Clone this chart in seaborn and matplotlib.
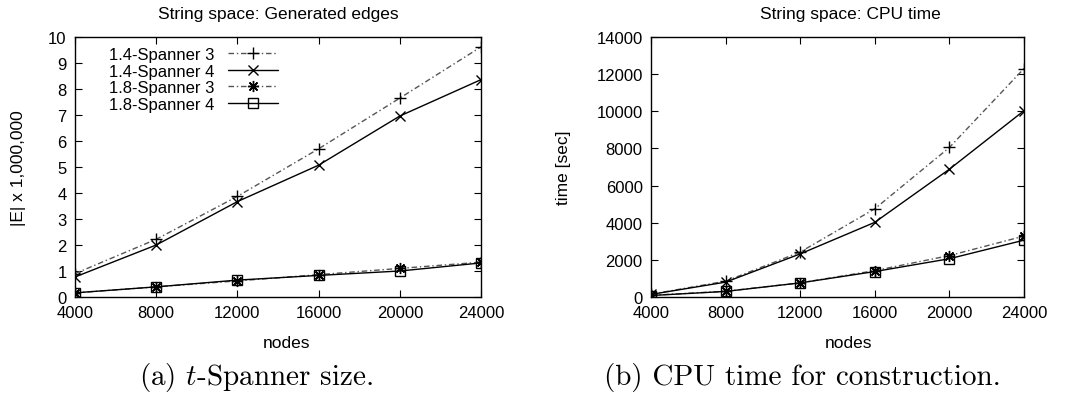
import numpy as np
import pandas as pd
import matplotlib
matplotlib.use("Agg")
import matplotlib.pyplot as plt
import seaborn as sns

sns.set_style("ticks")
plt.rcParams['font.family'] = ['Liberation Sans', 'DejaVu Sans']
plt.rcParams['mathtext.fontset'] = 'cm'
plt.rcParams['text.color'] = 'black'
plt.rcParams['axes.labelcolor'] = 'black'

nodes = [4000, 8000, 12000, 16000, 20000, 24000]
series = ["1.4-Spanner 3", "1.4-Spanner 4", "1.8-Spanner 3", "1.8-Spanner 4"]

# generated edges, in millions
edges_14_3 = [0.90, 2.22, 3.87, 5.70, 7.65, 9.62]
edges_14_4 = [0.77, 2.00, 3.67, 5.07, 6.96, 8.36]
edges_18_3 = [0.16, 0.39, 0.62, 0.86, 1.10, 1.34]
edges_18_4 = [0.16, 0.39, 0.65, 0.83, 1.00, 1.31]

# cpu time in seconds
time_14_3 = [150, 850, 2420, 4750, 8050, 12300]
time_14_4 = [140, 800, 2320, 4020, 6880, 10030]
time_18_3 = [90, 310, 760, 1420, 2230, 3280]
time_18_4 = [80, 300, 760, 1370, 2060, 3060]

# gnuplot-ish styles: (color, linestyle, marker, size)
styles = {
    "1.4-Spanner 3": ("#555555", (0, (4, 2, 1, 2)), "+", 8),
    "1.4-Spanner 4": ("black", "-", "x", 7),
    "1.8-Spanner 3": ("#555555", (0, (4, 2, 1, 2)), (8, 2, 0), 8),
    "1.8-Spanner 4": ("black", "-", "s", 7),
}

def draw(ax, cols, with_label):
    for name, vals in zip(series, cols):
        color, ls, mk, ms = styles[name]
        df = pd.DataFrame({"nodes": nodes, "value": vals})
        sns.lineplot(data=df, x="nodes", y="value", ax=ax, color=color,
                     linestyle=ls, linewidth=1.0, marker=mk, markersize=ms,
                     markeredgewidth=1.0, markerfacecolor="none",
                     markeredgecolor="black",
                     label=name if with_label else None)

fig = plt.figure(figsize=(10.73, 4.02), dpi=100)
ax1 = fig.add_axes([0.0699, 0.2587, 0.3784, 0.6468])
ax2 = fig.add_axes([0.6067, 0.2587, 0.3476, 0.6468])

draw(ax1, [edges_14_3, edges_14_4, edges_18_3, edges_18_4], True)
draw(ax2, [time_14_3, time_14_4, time_18_3, time_18_4], False)

for ax in (ax1, ax2):
    ax.set_xlim(4000, 24000)
    ax.set_xticks(nodes)
    ax.tick_params(direction="in", top=True, right=True, length=5,
                   labelsize=12, colors="black", pad=6)
    for s in ax.spines.values():
        s.set_color("black")
        s.set_linewidth(1.0)
    ax.set_xlabel("nodes", fontsize=12.5)

ax1.set_ylim(0, 10)
ax1.set_yticks(range(0, 11))
ax1.set_ylabel("|E| x 1,000,000", fontsize=12.5, labelpad=16)
ax1.set_title("String space: Generated edges", fontsize=12.5, pad=14)
ax1.xaxis.set_label_coords((287 - 75) / 406, -0.148)

ax2.set_ylim(0, 14000)
ax2.set_yticks(range(0, 14001, 2000))
ax2.set_ylabel("time [sec]", fontsize=12.5, labelpad=18)
ax2.set_title("String space: CPU time", fontsize=12.5, pad=14,
              x=(850 - 651) / 373)
ax2.xaxis.set_label_coords((849 - 651) / 373, -0.148)

leg = ax1.legend(loc="upper left", bbox_to_anchor=(0.06, 1.0), frameon=False,
                 markerfirst=False, fontsize=12, handlelength=3.0,
                 labelspacing=0.1, borderaxespad=0.2, handletextpad=0.8)

fig.text(256 / 1073, 1 - 378 / 402, r"(a) $t$-Spanner size.", family="cmr10",
         fontsize=21, ha="center", va="center")
fig.text(802 / 1073, 1 - 378 / 402, "(b) CPU time for construction.", family="cmr10",
         fontsize=21, ha="center", va="center")

fig.savefig("out.png", dpi=100)
